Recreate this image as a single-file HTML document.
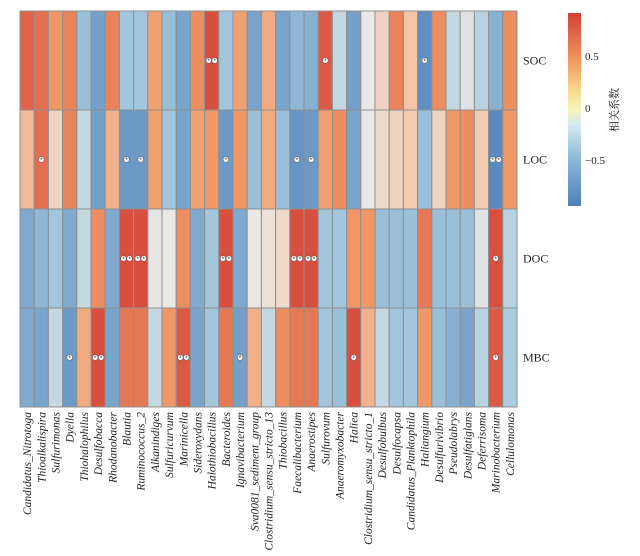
<!DOCTYPE html>
<html><head><meta charset="utf-8"><style>
html,body{margin:0;padding:0;background:#fff;}
svg{display:block;}
</style></head><body>
<svg id="chart" width="640" height="556" viewBox="0 0 640 556" xmlns="http://www.w3.org/2000/svg">
<defs>
<linearGradient id="cbgrad" x1="0" y1="1" x2="0" y2="0">
<stop offset="0" stop-color="#4f7fb8"/>
<stop offset="0.25" stop-color="#8fbad8"/>
<stop offset="0.42" stop-color="#d6eaef"/>
<stop offset="0.5" stop-color="#f6f5b8"/>
<stop offset="0.6" stop-color="#f7d88f"/>
<stop offset="0.75" stop-color="#f29a5f"/>
<stop offset="1" stop-color="#d23f36"/>
</linearGradient>
</defs>
<g id="cells"></g>
<g id="stars"></g>
<g id="rowlabels"></g>
<g id="collabels"></g>
<g>
<rect x="568" y="13" width="13" height="193" fill="url(#cbgrad)"/>
<g id="cbticks"></g>
<text x="618" y="110" transform="rotate(-90 618 110)" text-anchor="middle" font-family="'Liberation Serif','Noto Serif CJK SC',serif" font-size="11" fill="#222">相关系数</text>
</g>
</svg>
<script>
const categories = ["Candidatus_Nitrotoga","Thioalkalispira","Sulfurimonas","Dyella","Thiohalophilus","Desulfobacca","Rhodanobacter","Blautia","Ruminococcus_2","Alkanindiges","Sulfuricurvum","Marinicella","Sideroxydans","Halothiobacillus","Bacteroides","Ignavibacterium","Sva0081_sediment_group","Clostridium_sensu_stricto_13","Thiobacillus","Faecalibacterium","Anaerostipes","Sulfurovum","Anaeromyxobacter","Haliea","Clostridium_sensu_stricto_1","Desulfobulbus","Desulfocapsa","Candidatus_Planktophila","Haliangium","Desulfurivibrio","Pseudolabrys","Desulfatiglans","Deferrisoma","Marinobacterium","Cellulomonas"];
const rows = ["SOC","LOC","DOC","MBC"];
const socValues = [0.75,0.7,0.5,0.6,-0.35,-0.6,0.6,-0.3,-0.3,0.45,-0.35,-0.55,0.55,0.85,-0.3,0.45,-0.55,0.4,-0.55,-0.4,-0.45,0.8,-0.15,-0.6,0.0,0.15,0.6,0.25,-0.75,0.55,-0.15,-0.05,-0.2,-0.45,0.55];
const locValues = [0.3,0.7,0.15,0.6,-0.15,-0.6,0.35,-0.65,-0.65,0.45,-0.3,-0.55,0.45,0.5,-0.65,0.5,-0.35,0.4,-0.35,-0.7,-0.65,0.45,0.55,-0.55,0.0,0.1,0.15,0.2,-0.35,0.15,0.5,0.55,0.2,-0.8,0.5];
const docValues = [-0.5,-0.4,-0.3,-0.5,-0.15,0.55,-0.5,0.85,0.85,-0.02,0.0,0.55,-0.5,-0.3,0.85,-0.5,0.0,0.05,0.1,0.85,0.85,-0.3,-0.3,0.5,0.5,-0.35,-0.35,-0.35,0.65,-0.35,-0.35,-0.35,-0.05,0.85,-0.2];
const mbcValues = [-0.5,-0.55,-0.15,-0.65,0.4,0.85,-0.55,0.65,0.65,-0.15,0.5,0.8,-0.55,-0.3,0.65,-0.6,0.35,-0.15,0.55,0.65,0.65,-0.3,-0.35,0.85,0.35,-0.15,-0.3,-0.3,0.5,-0.35,-0.45,-0.55,-0.2,0.8,-0.25];
const socStars = "1:0,13:2,21:1,28:1";
const locStars = "1:1,7:1,8:1,14:1,19:1,20:1,33:2";
const docStars = "7:2,8:2,14:2,19:2,20:2,33:1";
const mbcStars = "3:1,5:2,11:2,15:1,23:1,33:1";
const cbTicks = [0.5,0,-0.5];
const cbTickLabels = ["0.5","0","\u22120.5"];

const values=[socValues,locValues,docValues,mbcValues];
const starStr=[socStars,locStars,docStars,mbcStars];
const NS="http://www.w3.org/2000/svg";
const X0=20,X1=517,Y0=11,Y1=407;
const cw=(X1-X0)/categories.length, rh=(Y1-Y0)/rows.length;
const xPos=i=>X0+i*cw, yPos=j=>Y0+j*rh;
const cbY=v=>108-v*104;
const stops=[[-0.9,[79,127,184]],[-0.5,[127,169,207]],[-0.25,[170,205,224]],[0,[234,232,229]],[0.25,[243,196,165]],[0.5,[239,152,101]],[0.9,[214,69,58]]];
function color(v){
 if(v<=stops[0][0])return 'rgb('+stops[0][1]+')';
 for(let k=1;k<stops.length;k++){if(v<=stops[k][0]){const a=stops[k-1],b=stops[k],t=(v-a[0])/(b[0]-a[0]);return 'rgb('+a[1].map((c,i)=>Math.round(c+(b[1][i]-c)*t)).join(',')+')';}}
 return 'rgb('+stops[stops.length-1][1]+')';
}
function mk(tag,attrs,parent){const e=document.createElementNS(NS,tag);for(const k in attrs)e.setAttribute(k,attrs[k]);parent.appendChild(e);return e;}
const gC=document.getElementById('cells'),gS=document.getElementById('stars'),gR=document.getElementById('rowlabels'),gL=document.getElementById('collabels'),gT=document.getElementById('cbticks');
rows.forEach((r,j)=>{
 values[j].forEach((v,i)=>{
  const e=mk('rect',{x:xPos(i),y:yPos(j),width:cw,height:rh,fill:color(v),stroke:'#8f8f8f','stroke-width':1},gC);
  
  
 });
 const t=mk('text',{x:523,y:yPos(j)+rh/2+4,'font-family':"'Liberation Serif',serif",'font-size':12,fill:'#222'},gR);
 t.textContent=r;
 
 
 starStr[j].split(',').forEach(s=>{
  const [ci,n]=s.split(':').map(Number);
  for(let m=0;m<n;m++){
   const cx=xPos(ci)+cw/2+(n===2?(m===0?-3:3):0), cy=yPos(j)+rh/2;
   const g=mk('g',{},gS);
   
   
   mk('circle',{cx:cx,cy:cy,r:2.8,fill:'#fff',stroke:'#555','stroke-width':0.5},g);
   const st=mk('text',{x:cx,y:cy+2.6,'text-anchor':'middle','font-family':"'Liberation Sans',sans-serif",'font-size':6,fill:'#222'},g);
   st.textContent='*';
  }
 });
});
categories.forEach((c,i)=>{
 const x=xPos(i)+cw/2+4,y=412;
 const t=mk('text',{x:x,y:y,transform:'rotate(-90 '+x+' '+y+')','text-anchor':'end','font-family':"'Liberation Serif',serif",'font-style':'italic','font-size':11.5,fill:'#222'},gL);
 t.textContent=c;
 
 
});
cbTicks.forEach((v,k)=>{
 const t=mk('text',{x:585,y:cbY(v)+4,'font-family':"'Liberation Serif',serif",'font-size':11,fill:'#222'},gT);
 t.textContent=cbTickLabels[k];
 
 
});
</script>
</body></html>
